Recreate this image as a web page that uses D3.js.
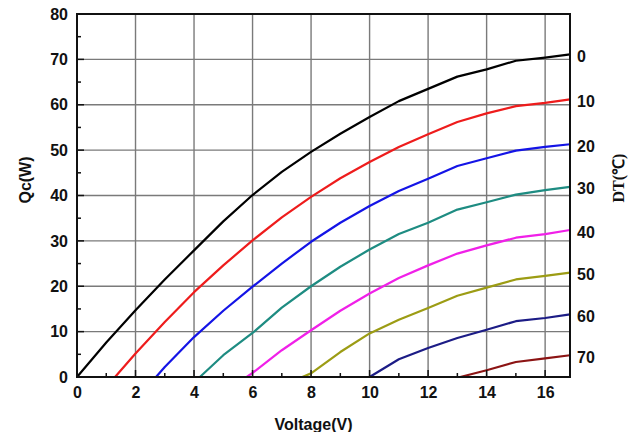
<!DOCTYPE html>
<html>
<head>
<meta charset="utf-8">
<script src="https://cdn.jsdelivr.net/npm/d3@7"></script>
<style>
  body { margin: 0; background: #fff; }
  text { font-family: "Liberation Sans", Arial, sans-serif; font-weight: bold; fill: #111; }
</style>
</head>
<body>
<div class="chart"></div>
<script>
/// Chart size
var svgWidth = 634;
var svgHeight = 432;

var margin = { top: 14, right: 64, bottom: 55, left: 77 };
var width = svgWidth - margin.left - margin.right;
var height = svgHeight - margin.top - margin.bottom;

/// Data: Qc (W) vs Voltage (V) for each DT (°C)
var dtLabels = ["0", "10", "20", "30", "40", "50", "60", "70"];
var seriesColors = ["#000000", "#ee1c1c", "#1414e6", "#1e8c82", "#f020e8", "#9c9c14", "#1c1c86", "#8c1414"];

var v0  = [0, 1, 2, 3, 4, 5, 6, 7, 8, 9, 10, 11, 12, 13, 14, 15, 16, 16.85];
var q0  = [0, 7.6, 14.7, 21.5, 27.9, 34.3, 40.1, 45.2, 49.6, 53.6, 57.3, 60.8, 63.5, 66.2, 67.8, 69.7, 70.4, 71.1];
var v10 = [1.3, 2, 3, 4, 5, 6, 7, 8, 9, 10, 11, 12, 13, 14, 15, 16, 16.85];
var q10 = [0, 5.2, 12.1, 18.7, 24.6, 30.1, 35.2, 39.7, 43.8, 47.4, 50.7, 53.5, 56.2, 58.1, 59.7, 60.4, 61.2];
var v20 = [2.7, 3, 4, 5, 6, 7, 8, 9, 10, 11, 12, 13, 14, 15, 16, 16.85];
var q20 = [0, 2.2, 8.8, 14.6, 19.9, 25.0, 29.8, 34.0, 37.7, 41.0, 43.7, 46.5, 48.2, 49.9, 50.7, 51.3];
var v30 = [4.2, 5, 6, 7, 8, 9, 10, 11, 12, 13, 14, 15, 16, 16.85];
var q30 = [0, 4.8, 9.7, 15.3, 20.0, 24.3, 28.1, 31.5, 34.0, 36.9, 38.5, 40.2, 41.2, 41.9];
var v40 = [5.8, 6, 7, 8, 9, 10, 11, 12, 13, 14, 15, 16, 16.85];
var q40 = [0, 0.9, 5.9, 10.3, 14.6, 18.4, 21.8, 24.6, 27.2, 29.0, 30.7, 31.5, 32.4];
var v50 = [7.7, 8, 9, 10, 11, 12, 13, 14, 15, 16, 16.85];
var q50 = [0, 0.8, 5.5, 9.6, 12.6, 15.2, 17.9, 19.7, 21.5, 22.3, 23.0];
var v60 = [10, 11, 12, 13, 14, 15, 16, 16.85];
var q60 = [0, 3.9, 6.4, 8.6, 10.4, 12.3, 13.0, 13.8];
var v70 = [13.1, 14, 15, 16, 16.85];
var q70 = [0, 1.5, 3.3, 4.1, 4.8];

var voltages = [v0, v10, v20, v30, v40, v50, v60, v70];
var powers = [q0, q10, q20, q30, q40, q50, q60, q70];

var xTicks = [0, 2, 4, 6, 8, 10, 12, 14, 16];
var yTicks = [0, 10, 20, 30, 40, 50, 60, 70, 80];

/// SVG wrapper
var svg = d3.select(".chart")
    .append("svg")
    .attr("width", svgWidth)
    .attr("height", svgHeight);

var chartGroup = svg.append("g")
    .attr("transform", `translate(${margin.left}, ${margin.top})`);

/// Scales
var xLinearScale = d3.scaleLinear().domain([0, 16.85]).range([0, width]);
var yLinearScale = d3.scaleLinear().domain([0, 80]).range([height, 0]);

/// Grid lines
chartGroup.append("g")
    .selectAll("line")
    .data(xTicks.filter(d => d > 0))
    .enter()
    .append("line")
    .attr("x1", d => xLinearScale(d))
    .attr("x2", d => xLinearScale(d))
    .attr("y1", 0)
    .attr("y2", height)
    .attr("stroke", "#7a7a7a")
    .attr("stroke-width", 1.4);

chartGroup.append("g")
    .selectAll("line")
    .data(yTicks.filter(d => d > 0 && d < 80))
    .enter()
    .append("line")
    .attr("x1", 0)
    .attr("x2", width)
    .attr("y1", d => yLinearScale(d))
    .attr("y2", d => yLinearScale(d))
    .attr("stroke", "#7a7a7a")
    .attr("stroke-width", 1.4);

/// Curves
var line = d3.line()
    .x(d => xLinearScale(d[0]))
    .y(d => yLinearScale(d[1]));

voltages.forEach(function(vs, i) {
    var pts = vs.map((v, j) => [v, powers[i][j]]);
    chartGroup.append("path")
        .datum(pts)
        .attr("d", line)
        .attr("fill", "none")
        .attr("stroke", seriesColors[i])
        .attr("stroke-width", 2.2)
        .attr("stroke-linejoin", "round");
});

/// Axes (ticks inward)
var bottomAxis = d3.axisBottom(xLinearScale)
    .tickValues(xTicks)
    .tickSize(0)
    .tickPadding(10);
var xAxis = chartGroup.append("g")
    .attr("transform", `translate(0, ${height})`)
    .call(bottomAxis);
xAxis.select(".domain").remove();
xAxis.selectAll("text").style("font-size", "16px").attr("fill", "#111");

var leftAxis = d3.axisLeft(yLinearScale)
    .tickValues(yTicks)
    .tickSize(0)
    .tickPadding(9);
var yAxis = chartGroup.append("g").call(leftAxis);
yAxis.select(".domain").remove();
yAxis.selectAll("text").style("font-size", "16px").attr("fill", "#111");

/// Inward tick marks
var xTickVals = d3.range(0, 17, 1);
chartGroup.append("g")
    .selectAll("line")
    .data(xTickVals)
    .enter()
    .append("line")
    .attr("x1", d => xLinearScale(d))
    .attr("x2", d => xLinearScale(d))
    .attr("y1", height)
    .attr("y2", d => height - (d % 2 === 0 ? 7 : 4))
    .attr("stroke", "#111")
    .attr("stroke-width", 1.5);

var yTickVals = d3.range(0, 85, 5);
chartGroup.append("g")
    .selectAll("line")
    .data(yTickVals)
    .enter()
    .append("line")
    .attr("x1", 0)
    .attr("x2", d => (d % 10 === 0 ? 7 : 4))
    .attr("y1", d => yLinearScale(d))
    .attr("y2", d => yLinearScale(d))
    .attr("stroke", "#111")
    .attr("stroke-width", 1.5);

/// Frame
chartGroup.append("rect")
    .attr("x", 0)
    .attr("y", 0)
    .attr("width", width)
    .attr("height", height)
    .attr("fill", "none")
    .attr("stroke", "#111")
    .attr("stroke-width", 2);

/// DT labels at the end of each curve
chartGroup.append("g")
    .selectAll("text")
    .data(dtLabels)
    .enter()
    .append("text")
    .attr("x", width + 7)
    .attr("y", (d, i) => yLinearScale(powers[i][powers[i].length - 1]) + 2)
    .attr("dy", "0.35em")
    .style("font-size", "16px")
    .text(d => d);

/// Axis titles
chartGroup.append("text")
    .attr("transform", "rotate(-90)")
    .attr("x", -166)
    .attr("y", -46)
    .attr("text-anchor", "middle")
    .style("font-size", "16px")
    .text("Qc(W)");

chartGroup.append("text")
    .attr("x", width / 2 - 10)
    .attr("y", height + 53)
    .attr("text-anchor", "middle")
    .style("font-size", "16px")
    .text("Voltage(V)");

chartGroup.append("text")
    .attr("transform", "rotate(-90)")
    .attr("x", -164)
    .attr("y", width + 54)
    .attr("text-anchor", "middle")
    .style("font-size", "16px")
    .style("font-family", "'Liberation Serif', 'Times New Roman', serif")
    .text("DT(℃)");
</script>
</body>
</html>
